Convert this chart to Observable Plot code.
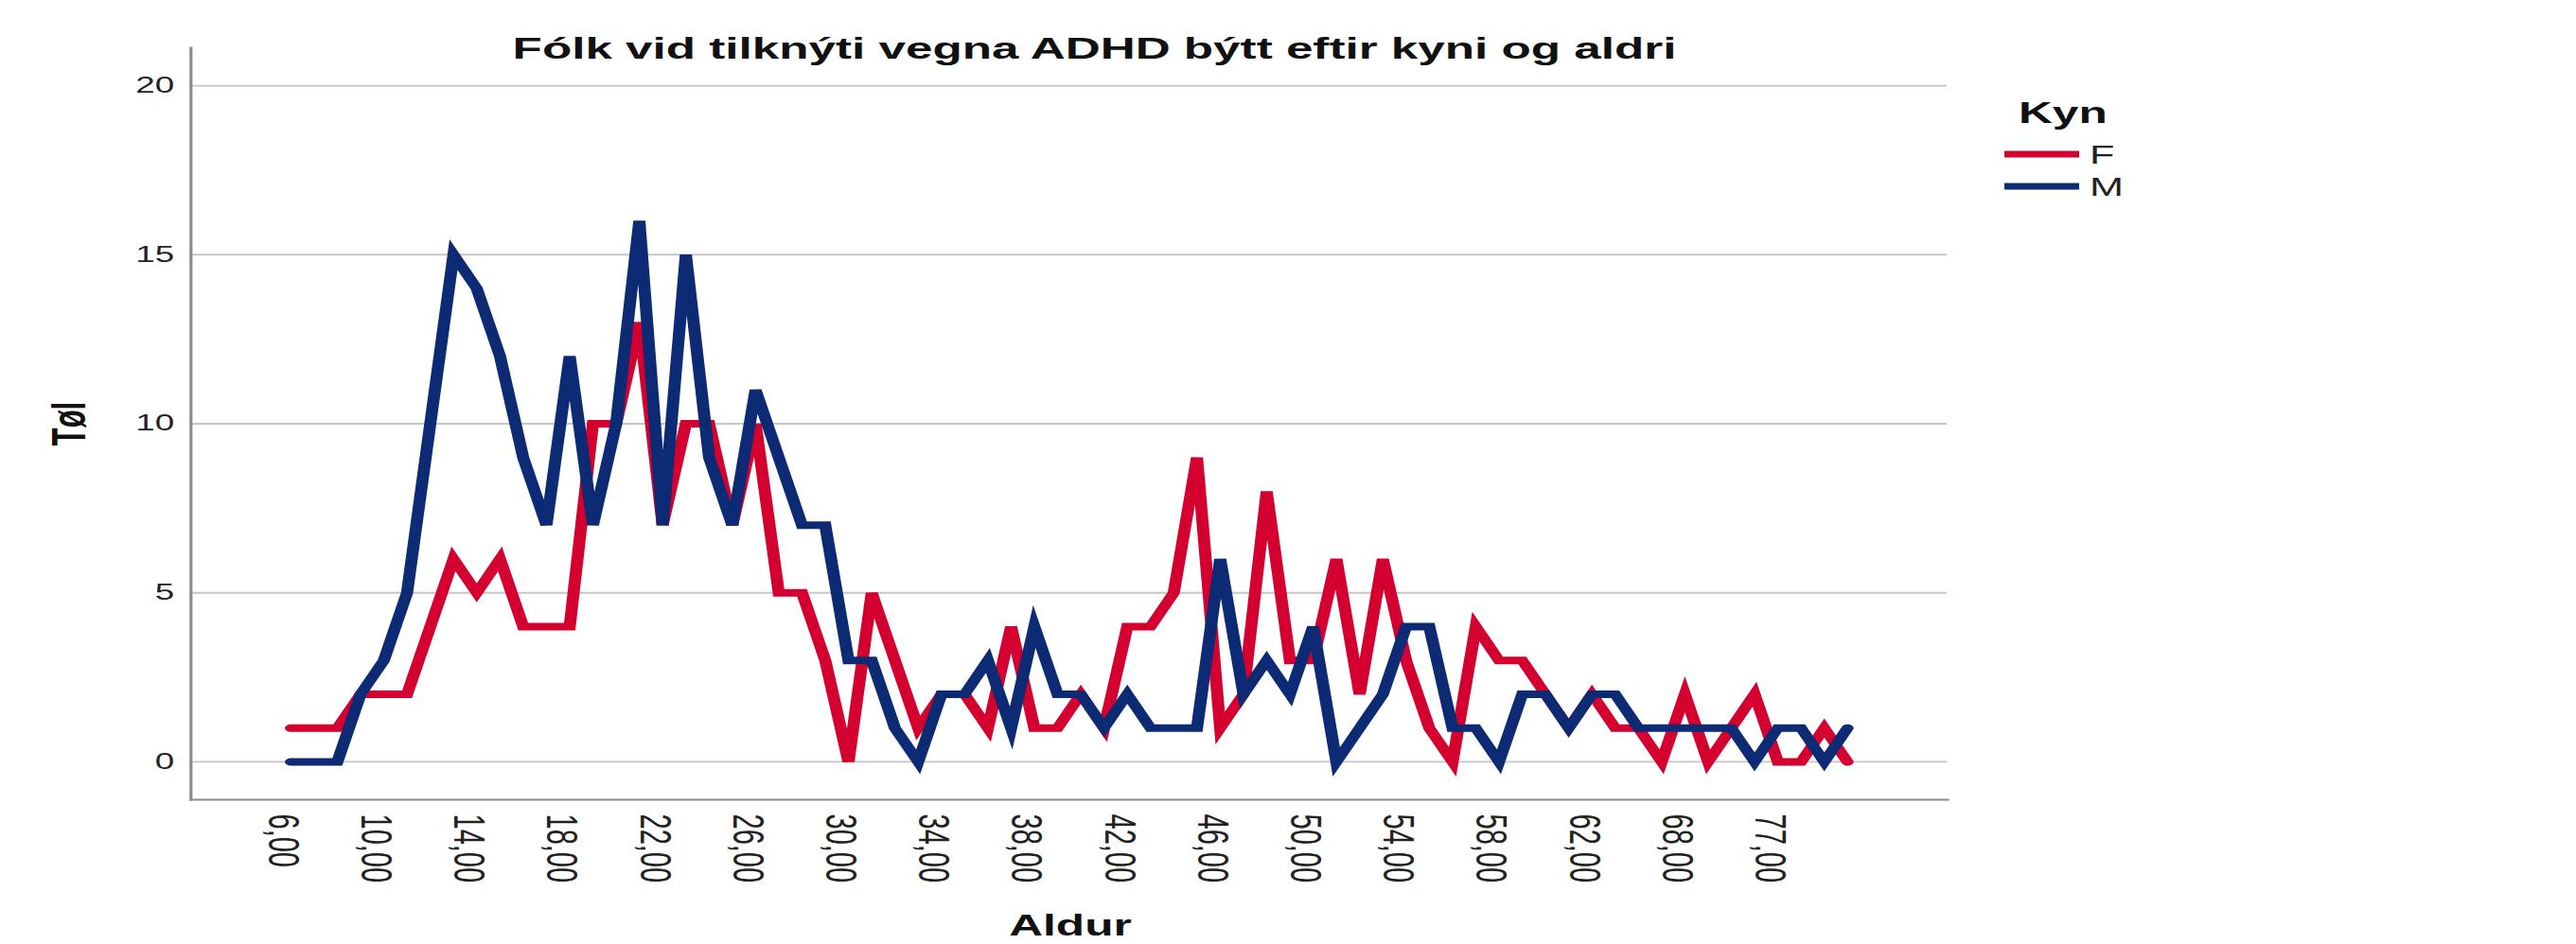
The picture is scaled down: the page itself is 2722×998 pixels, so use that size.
<!DOCTYPE html>
<html><head><meta charset="utf-8">
<script src="https://cdn.jsdelivr.net/npm/d3@7"></script>
<script src="https://cdn.jsdelivr.net/npm/@observablehq/plot@0.6"></script>
<style>
html,body{margin:0;padding:0;background:#fff;overflow:hidden;}
#chart svg{display:block;}
</style></head><body><div id="chart"></div>
<script>
// Age categories (only ages present in the data)
const ages = [6,7,8,9,10,11,12,13,14,15,16,17,18,19,20,21,22,23,24,25,26,27,28,29,30,31,32,33,34,35,36,37,38,39,40,41,42,43,44,45,46,47,48,49,50,51,52,53,54,55,56,57,58,59,60,61,62,63,64,66,68,70,72,74,77,79,81,84];
// Counts per age
const female = [1,1,1,2,2,2,4,6,5,6, 4,4,4,10,10,13,7,10,10,7, 10,5,5,3,0,5,3,1,2,2, 1,4,1,1,2,1,4,4,5,9, 1,2,8,3,3,6,2,6,3,1, 0,4,3,3,2,1,2,1,1,0, 2,0,1,2,0,0,1,0];
const male   = [0,0,0,2,3,5,10,15,14,12, 9,7,12,7,10,16,7,15,9,7, 11,9,7,7,3,3,1,0,2,2, 3,1,4,2,2,1,2,1,1,1, 6,2,3,2,4,0,1,2,4,4, 1,1,0,2,2,1,2,2,1,1, 1,1,1,0,1,1,0,1];
const xTicks = [6,10,14,18,22,26,30,34,38,42,46,50,54,58,62,68,77];
const yTicks = [0,5,10,15,20];
const sexes = ["F","M"];
const colors = ["#d4002f","#0d2a74"];
const title = "Fólk vid tilknýti vegna ADHD býtt eftir kyni og aldri";
const xTitle = "Aldur";
const yTitle = "Tøl";
const legendTitle = "Kyn";

const data = [];
ages.forEach((a, i) => {
  data.push({age: a, sex: "F", n: female[i]});
  data.push({age: a, sex: "M", n: male[i]});
});

const W = 2722, H = 998, SX = 1.6, W0 = W / SX;
const font = "'Liberation Sans', Arial, sans-serif";

const svg = Plot.plot({
  width: W0, height: H,
  marginLeft: 201 / SX, marginRight: (W - 2057) / SX, marginTop: 50, marginBottom: H - 845,
  style: {fontFamily: font, background: "#fff", color: "#222"},
  x: {type: "point", domain: ages, padding: 4.3, round: false},
  y: {domain: [-1.12, 21.12]},
  color: {domain: sexes, range: colors},
  marks: [
    Plot.gridY(yTicks, {stroke: "#c6c6c6", strokeOpacity: 1, strokeWidth: 1.8}),
    Plot.frame({anchor: "left", stroke: "#8c8c8c", strokeWidth: 2}),
    Plot.frame({anchor: "bottom", stroke: "#8c8c8c", strokeWidth: 2.2}),
    Plot.axisY(yTicks, {tickSize: 0, tickPadding: 11, fontSize: 23, fill: "#222", label: null}),
    Plot.axisX(xTicks, {tickSize: 0, tickPadding: 15, tickRotate: 90, fontSize: 29, fill: "#222", dx: -5.5,
      tickFormat: d => d.toFixed(2).replace(".", ","), label: null}),
    Plot.line(data, {x: "age", y: "n", stroke: "sex", strokeWidth: 8, strokeLinejoin: "miter", strokeMiterlimit: 6})
  ]
});

svg.setAttribute("width", W);
svg.setAttribute("height", H);
svg.setAttribute("viewBox", `0 0 ${W0} ${H}`);
svg.setAttribute("preserveAspectRatio", "none");
svg.style.maxWidth = "none";
svg.style.width = W + "px";
svg.style.height = H + "px";

const s = d3.select(svg);
const g = s.append("g").attr("font-family", font).attr("fill", "#111");
g.append("text").attr("x", 1156.5 / SX).attr("y", 62).attr("text-anchor", "middle")
  .attr("font-size", 32).attr("font-weight", "bold").text(title);
g.append("text").attr("x", 1131 / SX).attr("y", 989).attr("text-anchor", "middle")
  .attr("font-size", 31).attr("font-weight", "bold").text(xTitle);
g.append("text").attr("transform", `translate(${73 / SX},448) rotate(-90)`).attr("text-anchor", "middle")
  .attr("dy", "0.35em").attr("font-size", 31).attr("font-weight", "bold").text(yTitle);
// legend
g.append("text").attr("x", 2133 / SX).attr("y", 130).attr("text-anchor", "start")
  .attr("font-size", 31).attr("font-weight", "bold").text(legendTitle);
sexes.forEach((k, i) => {
  const y = 163 + i * 34;
  g.append("line").attr("x1", 2118 / SX).attr("x2", 2197 / SX).attr("y1", y).attr("y2", y)
    .attr("stroke", colors[i]).attr("stroke-width", 7);
  g.append("text").attr("x", 2208 / SX).attr("y", y).attr("dy", "0.36em").attr("text-anchor", "start")
    .attr("font-size", 27).attr("fill", "#222").text(k);
});

document.getElementById("chart").appendChild(svg);
</script>
</body></html>
